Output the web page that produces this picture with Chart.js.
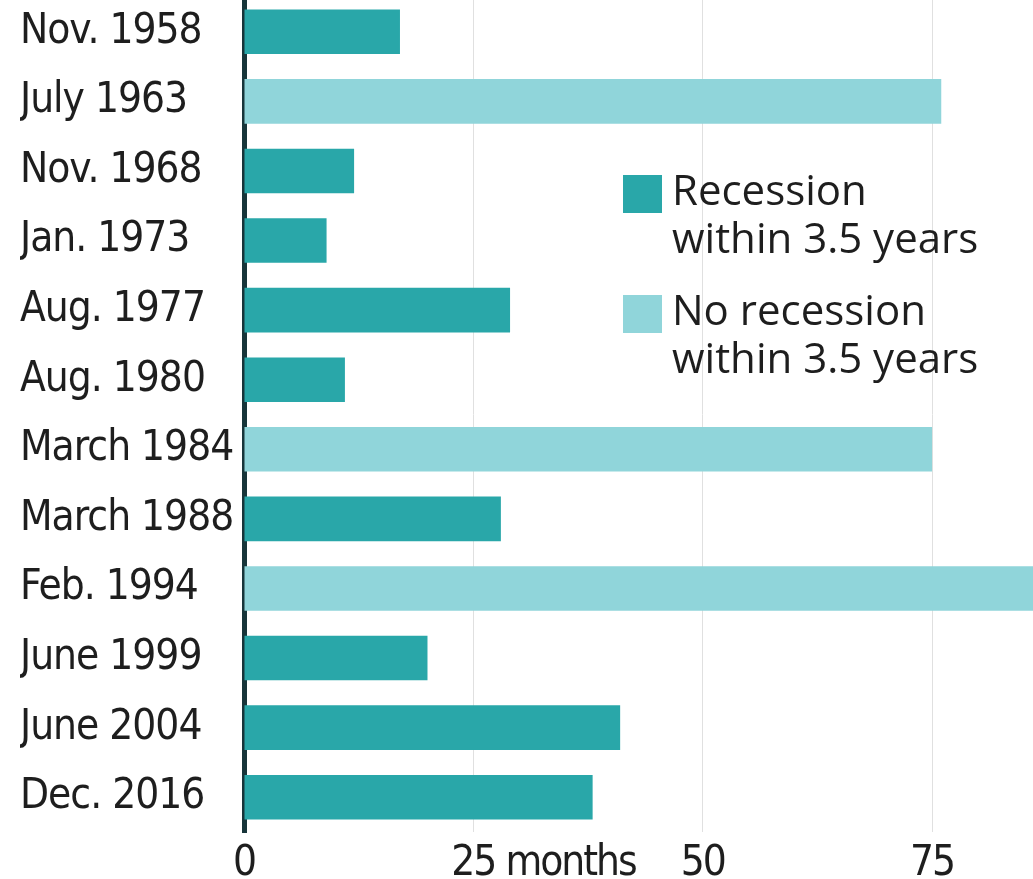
<!DOCTYPE html>
<html>
<head>
<meta charset="utf-8">
<title>Months from first rate hike to recession</title>
<script src="https://cdn.jsdelivr.net/npm/chart.js@4/dist/chart.umd.min.js"></script>
<style>
  html, body { margin: 0; padding: 0; background: #fff; overflow: hidden; }
  #wrap { position: absolute; left: 0; top: -3px; width: 1033px; height: 882px; }
  .legend-item { position: absolute; left: 623px; font-family: "Open Sans", "Liberation Sans", sans-serif; font-size: 42px; line-height: 48px; color: #1e1e1e; }
  .legend-item .swatch { position: absolute; left: 0; width: 39px; height: 38px; }
  .legend-item .text { position: absolute; left: 49px; white-space: nowrap; }
</style>
</head>
<body>
<div id="wrap"><canvas id="grafico"></canvas></div>
<div id="legend"></div>
<script>
// Start of each tightening cycle and months until the next recession began
const fechas = ['Nov. 1958', 'July 1963', 'Nov. 1968', 'Jan. 1973', 'Aug. 1977', 'Aug. 1980',
  'March 1984', 'March 1988', 'Feb. 1994', 'June 1999', 'June 2004', 'Dec. 2016'];
const meses = [17, 76, 12, 9, 29, 11, 75, 28, 86, 20, 41, 38];
const recesion = [true, false, true, true, true, true, false, true, false, true, true, true];

const etiquetasLeyenda = [['Recession', 'within 3.5 years'], ['No recession', 'within 3.5 years']];
const colores = ['#29a7a9', '#90d5da'];
const ticksX = [0, 25, 50, 75];
const unidad = 'months';
const maxX = 86;

const fuenteEstrecha = '"Liberation Sans Narrow", "DejaVu Sans Condensed", "Roboto", sans-serif';
const colorTexto = '#1e1e1e';

// split the values into the two groups; nulls keep each bar on its own row
const conRecesion = meses.map((m, i) => recesion[i] ? m : null);
const sinRecesion = meses.map((m, i) => recesion[i] ? null : m);

// tighter tracking for the condensed labels
const apretarTexto = {
  id: 'apretarTexto',
  beforeDraw(chart) { chart.ctx.letterSpacing = '-1px'; },
  afterDraw(chart) { chart.ctx.letterSpacing = '0px'; }
};

// x tick numbers, with the unit written after the first non-zero tick
const etiquetasX = {
  id: 'etiquetasX',
  afterDraw(chart) {
    const { ctx, scales: { x } } = chart;
    ctx.save();
    ctx.letterSpacing = '-2px';
    ctx.font = `42px ${fuenteEstrecha}`;
    ctx.fillStyle = colorTexto;
    ctx.textAlign = 'left';
    ctx.textBaseline = 'alphabetic';
    x.ticks.forEach(t => {
      const px = x.getPixelForValue(t.value);
      const num = String(t.value);
      const w = ctx.measureText(num).width;
      const texto = t.value === ticksX[1] ? `${num} ${unidad}` : num;
      ctx.fillText(texto, px - w / 2, x.bottom + 43);
    });
    ctx.restore();
  }
};

const chart = new Chart(document.getElementById('grafico').getContext('2d'), {
  type: 'bar',
  data: {
    labels: fechas,
    datasets: [
      {
        label: etiquetasLeyenda[0].join(' '),
        data: conRecesion,
        backgroundColor: colores[0]
      },
      {
        label: etiquetasLeyenda[1].join(' '),
        data: sinRecesion,
        backgroundColor: colores[1]
      }
    ]
  },
  options: {
    indexAxis: 'y',
    responsive: true,
    maintainAspectRatio: false,
    animation: false,
    grouped: false,
    barPercentage: 0.64,
    categoryPercentage: 1,
    borderWidth: 0,
    layout: { padding: { left: 20, right: 0, top: 0, bottom: 47 } },
    plugins: {
      legend: { display: false },
      tooltip: { enabled: false }
    },
    scales: {
      x: {
        type: 'linear',
        min: 0,
        max: maxX,
        afterBuildTicks: scale => { scale.ticks = ticksX.map(v => ({ value: v })); },
        ticks: { display: false, includeBounds: false },
        grid: { color: '#e0e0e0', lineWidth: 1, drawTicks: false },
        border: { display: false },
        afterFit: scale => { scale.paddingLeft = 0; scale.paddingRight = 0; }
      },
      y: {
        z: 1,
        grid: { display: false, drawTicks: false },
        border: { display: true, color: '#17353a', width: 5 },
        ticks: {
          crossAlign: 'far',
          color: colorTexto,
          font: { family: fuenteEstrecha, size: 42 }
        },
        afterFit: scale => {
          scale.width = 224;
          scale.paddingTop = 0;
          scale.paddingBottom = 0;
        }
      }
    }
  },
  plugins: [apretarTexto, etiquetasX]
});

// legend built from the dataset colours and two-line labels
const leyenda = document.getElementById('legend');
etiquetasLeyenda.forEach((lineas, i) => {
  const item = document.createElement('div');
  item.className = 'legend-item';
  item.style.top = (175 + i * 120) + 'px';
  item.innerHTML = `<div class="swatch" style="background:${colores[i]}"></div>` +
    `<div class="text" style="top:-10px">${lineas.join('<br>')}</div>`;
  leyenda.appendChild(item);
});
</script>
</body>
</html>
